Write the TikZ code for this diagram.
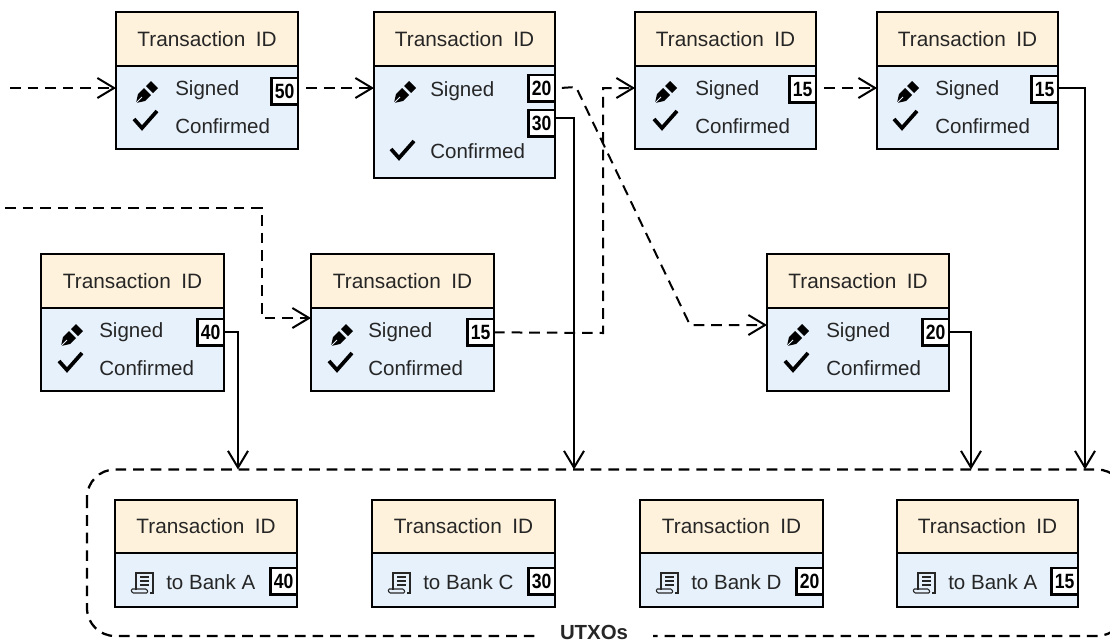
\documentclass[tikz,border=0pt]{standalone}
\usepackage{fontspec}
\setmainfont{Liberation Sans}
\newfontfamily\badgefont[FakeStretch=0.85]{Liberation Sans}
\usetikzlibrary{arrows.meta}
\definecolor{headfill}{HTML}{FFF2DC}
\definecolor{bodyfill}{HTML}{E6F1FB}
\definecolor{inktext}{HTML}{262626}
\tikzset{
  x=.75pt,y=-.75pt,
  boxline/.style={draw=black,line width=1.9pt,inner sep=0pt,outer sep=0pt,anchor=north west},
  headbox/.style={boxline,fill=headfill,text=inktext,font=\fontsize{15.6pt}{18pt}\selectfont},
  bodybox/.style={boxline,fill=bodyfill},
  rowlabel/.style={anchor=base west,inner sep=0pt,text=inktext,font=\fontsize{15.4pt}{18pt}\selectfont},
  badge/.style={draw=black,fill=white,line width=1.9pt,inner sep=0pt,outer sep=0pt,minimum width=20pt,minimum height=20pt,anchor=north east,font=\fontsize{15.5pt}{17pt}\badgefont\bfseries},
  flow/.style={line width=1.5pt,-{Straight Barb[length=12.5pt,width=15pt,line width=1.5pt]}},
  dashflow/.style={flow,dash pattern=on 8pt off 5.2pt},
  groupline/.style={line width=1.7pt,dash pattern=on 8pt off 5.2pt},
}
\newcommand{\txbox}[6]{%
  \node[headbox,minimum width=#4*.75pt,minimum height=#5*.75pt] (#1h) at (#2,#3) {Transaction\hspace{3.5pt} ID};
  \node[bodybox,minimum width=#4*.75pt,minimum height=#6*.75pt] (#1b) at (#2,#3+#5) {};
}
\newcommand{\penicon}[2]{%
  \begin{scope}[shift={(#1,#2)}]
    \fill[black] (-11,11) -- (-9,2) -- (-3,-4) -- (4,3) -- (-2,9) -- cycle;
    \fill[black] (-1,-6) -- (4,-11) -- (11,-4) -- (6,1) -- cycle;
    \draw[bodyfill,line width=.7pt] (-11,11) -- (-5,5);
  \end{scope}}
\newcommand{\checkicon}[2]{%
  \draw[black,line width=2.8pt,line join=miter] (#1-11,#2-1) -- (#1-3,#2+8) -- (#1+12,#2-9);}
\newcommand{\scrollicon}[2]{%
  \begin{scope}[shift={(#1,#2)},line width=.8pt,draw=inktext]
    \draw (-6,7) -- (-6,-10) -- (11,-10) -- (11,10) -- (8,10);
    \draw (-2,-6) -- (7,-6) (-2,-2) -- (7,-2) (-2,2) -- (7,2);
    \draw[rounded corners=1pt] (-11,6) -- (5,6) -- (6,10) -- (-10,10) -- cycle;
  \end{scope}}
\begin{document}
\begin{tikzpicture}
\useasboundingbox (0,0) rectangle (1110,643);
\clip (0,0) rectangle (1110,643);
% upper and middle boxes
\txbox{a}{116}{12}{182}{54}{83}
\txbox{c}{374}{12}{181}{54}{112}
\txbox{d}{635}{12}{181}{54}{83}
\txbox{e}{877}{12}{181}{54}{83}
\txbox{f}{41}{254}{183}{54}{83}
\txbox{g}{311}{254}{183}{54}{83}
\txbox{i}{767}{254}{182}{54}{83}
% UTXO boxes
\txbox{p}{115}{500}{182}{53}{54}
\txbox{q}{372}{500}{183}{53}{54}
\txbox{r}{640}{500}{183}{53}{54}
\txbox{s}{897}{500}{181}{53}{54}
% row labels
\node[rowlabel] (a1) at (175,95) {Signed};
\node[rowlabel] (a2) at (175,133) {Confirmed};
\node[rowlabel] (c1) at (430,96) {Signed};
\node[rowlabel] (c2) at (430,158) {Confirmed};
\node[rowlabel] (d1) at (695,95) {Signed};
\node[rowlabel] (d2) at (695,133) {Confirmed};
\node[rowlabel] (e1) at (935,95) {Signed};
\node[rowlabel] (e2) at (935,133) {Confirmed};
\node[rowlabel] (f1) at (99,337) {Signed};
\node[rowlabel] (f2) at (99,375) {Confirmed};
\node[rowlabel] (g1) at (368,337) {Signed};
\node[rowlabel] (g2) at (368,375) {Confirmed};
\node[rowlabel] (i1) at (826,337) {Signed};
\node[rowlabel] (i2) at (826,375) {Confirmed};
\node[rowlabel] (p1) at (166,589) {to Bank A};
\node[rowlabel] (q1) at (423,589) {to Bank C};
\node[rowlabel] (r1) at (691,589) {to Bank D};
\node[rowlabel] (s1) at (948,589) {to Bank A};
% icons
\penicon{147}{92}\checkicon{145}{120}
\penicon{405}{92}\checkicon{402}{150}
\penicon{666}{92}\checkicon{665}{120}
\penicon{908}{92}\checkicon{905}{120}
\penicon{72}{335}\checkicon{70}{362}
\penicon{342}{335}\checkicon{340}{362}
\penicon{798}{335}\checkicon{796}{362}
\scrollicon{142}{583}
\scrollicon{399}{583}
\scrollicon{667}{583}
\scrollicon{924}{583}
% badges
\node[badge] (b50) at (298,78) {50};
\node[badge] (b20) at (555,75) {20};
\node[badge] (b30) at (555,110) {30};
\node[badge] (b15d) at (816,76) {15};
\node[badge] (b15e) at (1058,76) {15};
\node[badge] (b40) at (224,319) {40};
\node[badge] (b15g) at (494,319) {15};
\node[badge] (b20i) at (949,319) {20};
\node[badge] (u40) at (297,568) {40};
\node[badge] (u30) at (555,568) {30};
\node[badge] (u20) at (823,568) {20};
\node[badge] (u15) at (1078,568) {15};
% group outline
\draw[groupline,rounded corners=21pt] (87,469.5) rectangle (1125,636);
\node[inner sep=0pt,fill=white,minimum width=88pt,minimum height=14pt,font=\fontsize{15.3pt}{17pt}\selectfont\bfseries,text=inktext] (utxo) at (594,632) {UTXOs};
% anchor points
\coordinate (start1) at (10,88);
\coordinate (start2) at (5,208);
\coordinate (ina) at (116,88);
\coordinate (inc) at (374,88);
\coordinate (ind) at (635,88);
\coordinate (ine) at (877,88);
\coordinate (ing) at (311,318);
\coordinate (ini) at (767,325);
\coordinate (t40) at (238,469.5);
\coordinate (t30) at (574,469.5);
\coordinate (t20) at (971,469.5);
\coordinate (t15) at (1085,469.5);
% dashed connectors
\draw[dashflow] (start1) -- (ina);
\draw[dashflow,dash phase=7pt] (b50.east |- inc) -- (inc);
\draw[dashflow,dash phase=7pt] (b15d.east |- ine) -- (ine);
\draw[dashflow] (start2) -- (262,208) -- (262,318) -- (ing);
\draw[dashflow] (b15g.east) -- (603,333) -- (603,88) -- (ind);
\draw[dashflow,dash phase=8pt] (b20.east) -- (576,87) -- (690,325) -- (ini);
% solid connectors
\draw[flow] (b30.east |- 0,118) -- (574,118) -- (t30);
\draw[flow] (b40.east |- 0,332) -- (238,332) -- (t40);
\draw[flow] (b20i.east |- 0,332) -- (971,332) -- (t20);
\draw[flow] (b15e.east |- 0,88) -- (1085,88) -- (t15);
\end{tikzpicture}
\end{document}
